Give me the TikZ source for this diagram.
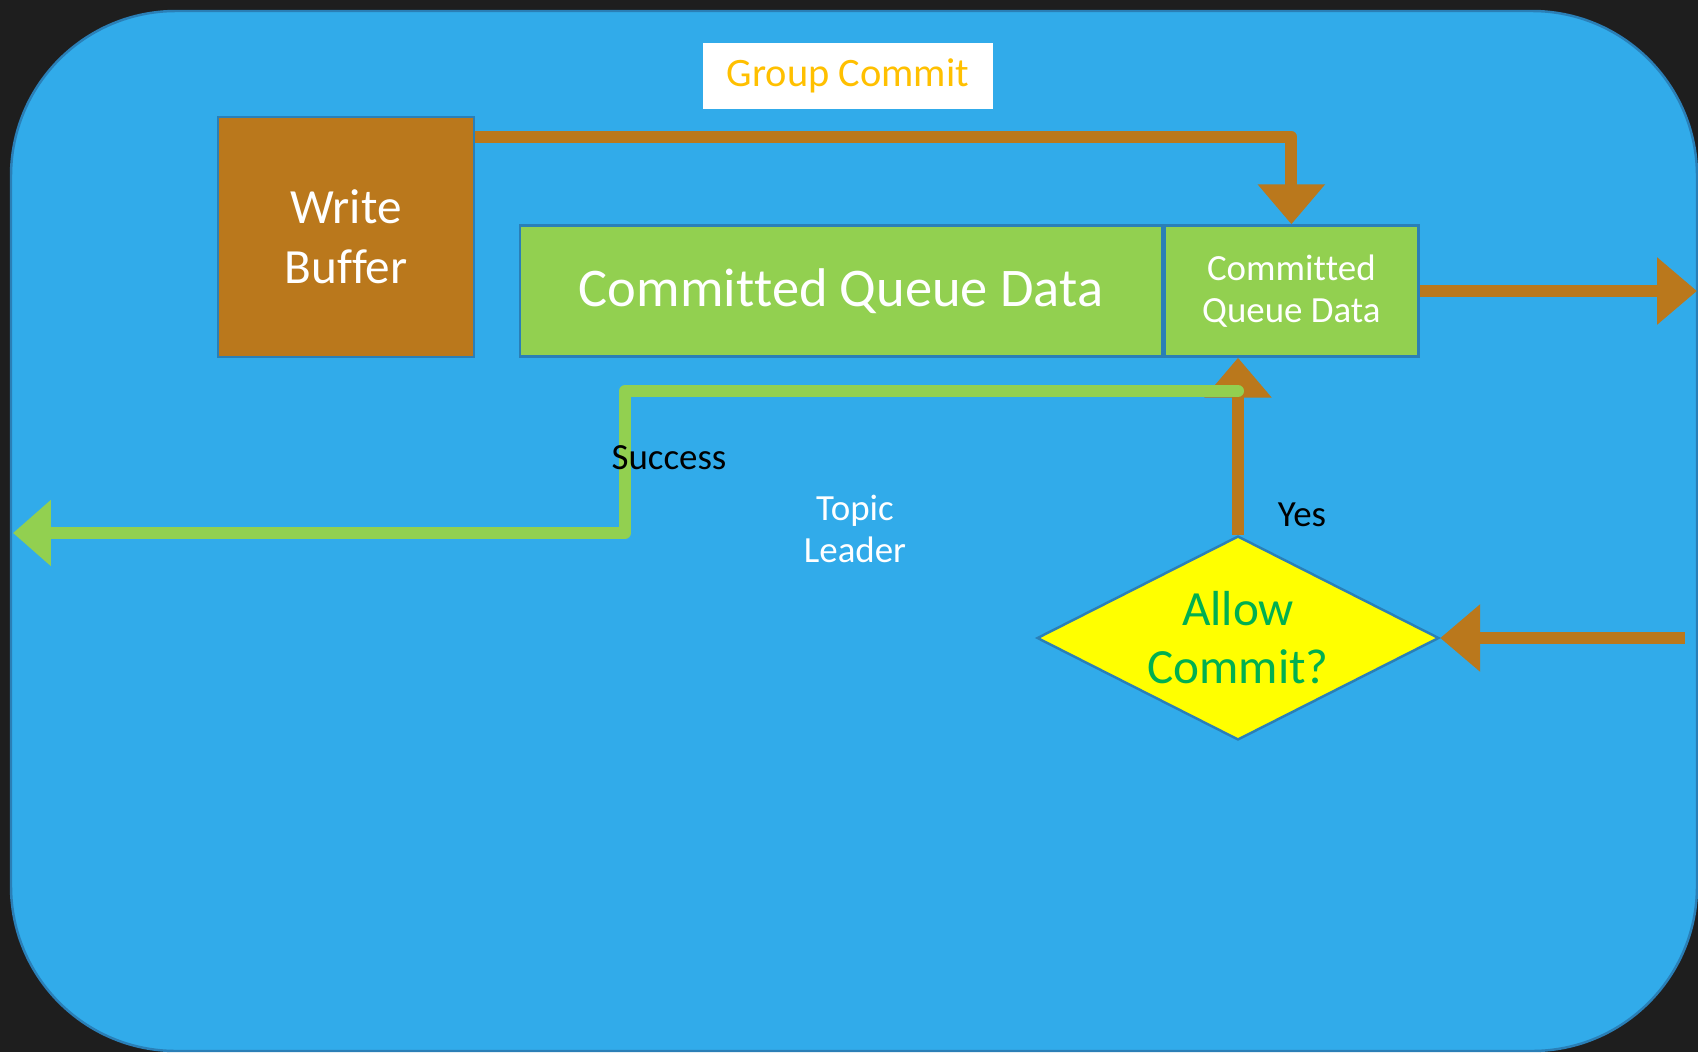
\documentclass[tikz,border=0pt]{standalone}
\usepackage{fontspec}
\setmainfont{Carlito}[Ligatures={CommonOff,RequiredOff}, RawFeature={-liga;-clig;-calt;-rlig;-dlig}]
\usepackage{tikz}
\usetikzlibrary{positioning, shapes.geometric, arrows.meta}

\definecolor{darkbg}{HTML}{1E1E1E}
\definecolor{panelblue}{HTML}{31ABEA}
\definecolor{edgeblue}{HTML}{2A7FB7}
\definecolor{bufbrown}{HTML}{BA781C}
\definecolor{qgreen}{HTML}{92D050}
\definecolor{txtgreen}{HTML}{00B050}
\definecolor{gold}{HTML}{FFC000}
\definecolor{pureyellow}{HTML}{FFFF00}

\begin{document}
\begin{tikzpicture}[x=0.02cm, y=-0.02cm,
  box/.style={draw=edgeblue, line width=1.4pt, inner sep=0pt, text=white, align=center},
  brownline/.style={draw=bufbrown, line width=0.24cm, line join=round,
    -{Triangle[length=0.8cm, width=1.3cm]}},
  greenline/.style={draw=qgreen, line width=0.24cm, line join=round, line cap=round,
    -{Triangle[length=0.76cm, width=1.28cm]}},
  lbl/.style={inner sep=0pt, align=center, font=\fontsize{21}{24}\selectfont}]
\useasboundingbox (0,0) rectangle (1698,1052);
\fill[darkbg] (0,0) rectangle (1698,1052);
\draw[edgeblue, fill=panelblue, line width=1.4pt, rounded corners=3.3cm] (11,11) rectangle (1697,1051);

\node[fill=white, minimum width=5.8cm, minimum height=1.34cm, text=gold,
  font=\fontsize{23}{26}\selectfont] (title) at (848,76) {Group Commit};
\node[box, fill=bufbrown, minimum width=5.12cm, minimum height=4.8cm,
  font=\fontsize{28}{34}\selectfont] (wbuf) at (346,237) {Write\\Buf\kern0ptfer};
\node[box, fill=qgreen, minimum width=12.84cm, minimum height=2.62cm,
  font=\fontsize{31}{36}\selectfont] (cqd) at (841,291) {Commit\kern0ptted Queue Data};
\node[box, fill=qgreen, minimum width=5.08cm, minimum height=2.62cm,
  font=\fontsize{21}{23.5}\selectfont, right=0pt of cqd] (cqdnew) {Commit\kern0ptted\\Queue Data};
\node[diamond, draw=edgeblue, line width=1.4pt, fill=pureyellow, inner sep=0pt, aspect=1.97,
  minimum width=8.04cm, minimum height=4.08cm, text=txtgreen, align=center,
  font=\fontsize{28}{33}\selectfont] (allow) at (1238,638) {Allow\\Commit?};

\node[lbl, text=white] (topic) at (855,529) {Topic\\Leader};
\node[lbl] (yes) at (1302,515) {Yes};

\coordinate (outR) at (1697,291);
\coordinate (inR) at (1685,638);
\coordinate (sback) at (1238,391);
\coordinate (bend) at (625,533);
\coordinate (outL) at (13,533);

\draw[brownline] ([yshift=-0.42cm]wbuf.north east) -| (cqdnew.north);
\draw[brownline] (cqdnew.east) -- (outR);
\draw[brownline] (allow.north) -- (allow.north |- cqdnew.south);
\draw[brownline] (inR) -- (allow.east);
\draw[greenline] (sback) -| (bend) -- (outL);

\node[lbl] (success) at (669,458) {Success};
\end{tikzpicture}
\end{document}
